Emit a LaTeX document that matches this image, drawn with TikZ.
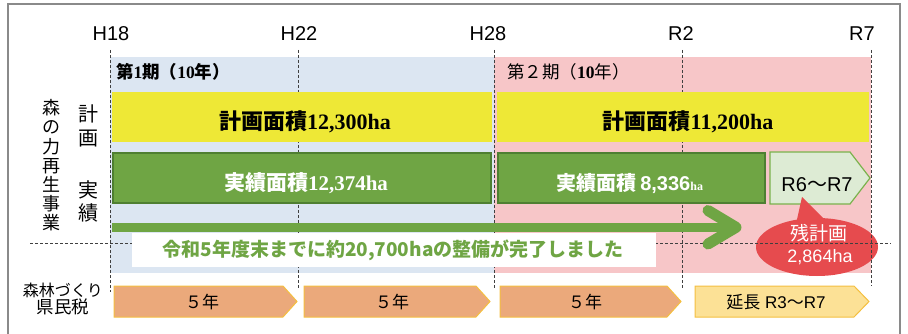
\documentclass[tikz,border=0pt]{standalone}
\usepackage{fontspec}
\setmainfont{Liberation Sans}
\newfontfamily\jp{Noto Sans CJK JP}
\newfontfamily\serifb{Liberation Serif}
\usetikzlibrary{shapes.geometric}
\definecolor{bluebg}{HTML}{DCE6F2}
\definecolor{pinkbg}{HTML}{F7C6C8}
\definecolor{ybar}{HTML}{EEE836}
\definecolor{gbar}{HTML}{6FA544}
\definecolor{gdark}{HTML}{4F7F32}
\definecolor{lgreen}{HTML}{DDEBD4}
\definecolor{lgborder}{HTML}{7AB24C}
\definecolor{redell}{HTML}{E64B4E}
\definecolor{orng}{HTML}{EBA97B}
\definecolor{obord}{HTML}{F4BF40}
\definecolor{yarr}{HTML}{FCE196}
\definecolor{framegray}{HTML}{8A8A8A}
\begin{document}
\begin{tikzpicture}[x=1pt,y=-1pt,
  yrlab/.style={font=\fontsize{20}{24}\selectfont, inner sep=0},
  dl/.style={draw=black!75, line width=0.8pt, dash pattern=on 3pt off 2pt},
  blk/.style={rectangle, inner sep=0, draw=none},
  gblk/.style={rectangle, inner sep=0, fill=gbar, draw=gdark, line width=1.8pt},
  pent/.style={fill=orng, draw=obord, line width=1pt},
  lab/.style={inner sep=0},
  vlab/.style={inner sep=0, align=center}
]
\useasboundingbox (0,0) rectangle (908,334);
% frame
\draw[framegray, line width=1.5pt] (8,334) -- (8,4) -- (900,4) -- (900,334);
% backgrounds
\node[blk, fill=bluebg, minimum width=384pt, minimum height=216pt] (bg1) at (302,165) {};
\node[blk, fill=pinkbg, minimum width=377pt, minimum height=216pt] (bg2) at (682.5,165) {};
% remaining plan ellipse
\node[ellipse, fill=redell, inner sep=0, minimum width=122pt, minimum height=58pt] (rem) at (817,247) {};
% dashed lines
\draw[dl] (110,50) -- (110,292);
\draw[dl] (298,50) -- (298,289);
\draw[dl] (494,50) -- (494,289);
\draw[dl] (682,50) -- (682,289);
\draw[dl] (871,50) -- (871,286);
\draw[dl] (30,243) -- (891,243);
% year labels
\node[yrlab] (h18) at (111,34) {H18};
\node[yrlab] (h22) at (299,34) {H22};
\node[yrlab] (h28) at (488,34) {H28};
\node[yrlab] (r2) at (681,34) {R2};
\node[yrlab] (r7) at (862,34) {R7};
% period labels
\node[lab, anchor=west, font=\fontsize{17.5}{20}\selectfont] (p1) at (116,72) {{\jp\bfseries 第}{\serifb\bfseries 1}{\jp\bfseries 期（}{\serifb\bfseries 10}{\jp\bfseries 年）}};
\node[lab, anchor=west, font=\fontsize{17.5}{20}\selectfont] (p2) at (507,72) {{\jp 第２期（}{\serifb\bfseries 10}{\jp 年）}};
% plan bars
\node[blk, fill=ybar, minimum width=380pt, minimum height=50pt] (y1) at (302,117) {};
\node[blk, fill=ybar, minimum width=372pt, minimum height=50pt] (y2) at (683,117) {};
\node[lab, font=\fontsize{22}{26}\selectfont] (y1t) at (305,122) {{\jp\bfseries 計画面積}{\serifb\bfseries 12,300ha}};
\node[lab, font=\fontsize{22}{26}\selectfont] (y2t) at (688,122) {{\jp\bfseries 計画面積}{\serifb\bfseries 11,200ha}};
% result bars
\node[gblk, minimum width=378pt, minimum height=50pt] (g1) at (302,178) {};
\node[gblk, minimum width=267pt, minimum height=50pt] (g2) at (631.5,178) {};
\node[lab, text=white, font=\fontsize{21}{25}\selectfont] (g1t) at (306,183) {{\jp\bfseries 実績面積}{\serifb\bfseries 12,374ha}};
\node[lab, text=white, font=\fontsize{20}{24}\selectfont] (g2t) at (630,183) {{\jp\bfseries 実績面積}\,{\bfseries 8,336}{\serifb\bfseries\fontsize{12}{14}\selectfont ha}};
% R6-R7 box
\draw[fill=lgreen, draw=lgborder, line width=1.2pt] (770,152) -- (850,152) -- (870,178) -- (850,204) -- (770,204) -- cycle;
\node[lab, font=\fontsize{20}{24}\selectfont] (r67) at (817,185) {R6{\jp 〜}R7};
% callout pointer
\fill[redell] (796,224) -- (802,197) -- (827,222) -- cycle;
\node[lab, text=white, font=\fontsize{19}{22}\selectfont] (remt1) at (819,233) {\jp 残計画};
\node[lab, text=white, font=\fontsize{18}{22}\selectfont] (remt2) at (820,257) {2,864ha};
% white message box
\node[blk, fill=white, minimum width=524pt, minimum height=34pt] (wb) at (394,250) {};
\node[lab, text=gbar, font=\fontsize{19}{22}\selectfont] (msg) at (393,250) {\jp\bfseries 令和5年度末までに約20,700haの整備が完了しました};
% big green arrow
\fill[gbar] (112,222.5) rectangle (734,232);
\draw[gbar, line width=11pt, line cap=round, line join=round] (708,210.5) -- (736,227.3) -- (708,244);
% left labels
\node[vlab, font=\jp\fontsize{18}{19.2}\selectfont] (mori) at (51,165.5) {森\\の\\力\\再\\生\\事\\業};
\node[vlab, font=\jp\fontsize{20}{24}\selectfont] (keikaku) at (88,125.5) {計\\画};
\node[vlab, font=\jp\fontsize{20}{23}\selectfont] (jisseki) at (88,201.5) {実\\績};
\node[lab, font=\jp\fontsize{16}{18}\selectfont] (zei1) at (63,290) {森林づくり};
\node[lab, font=\jp\fontsize{17.5}{20}\selectfont] (zei2) at (63,307) {県民税};
% tax arrows
\draw[pent] (114,286) -- (283,286) -- (297,301.5) -- (283,317) -- (114,317) -- cycle;
\draw[pent] (304,286) -- (476,286) -- (490,301.5) -- (476,317) -- (304,317) -- cycle;
\draw[pent] (500,286) -- (667,286) -- (681,301.5) -- (667,317) -- (500,317) -- cycle;
\draw[pent, fill=yarr] (695,286) -- (854,286) -- (869,301.5) -- (854,317) -- (695,317) -- cycle;
\node[lab, font=\jp\fontsize{17}{20}\selectfont] (t1) at (202,302) {５年};
\node[lab, font=\jp\fontsize{17}{20}\selectfont] (t2) at (392,302) {５年};
\node[lab, font=\jp\fontsize{17}{20}\selectfont] (t3) at (585,302) {５年};
\node[lab, font=\fontsize{17}{20}\selectfont] (t4) at (776,302) {{\jp 延長} R3{\jp 〜}R7};
\end{tikzpicture}
\end{document}
